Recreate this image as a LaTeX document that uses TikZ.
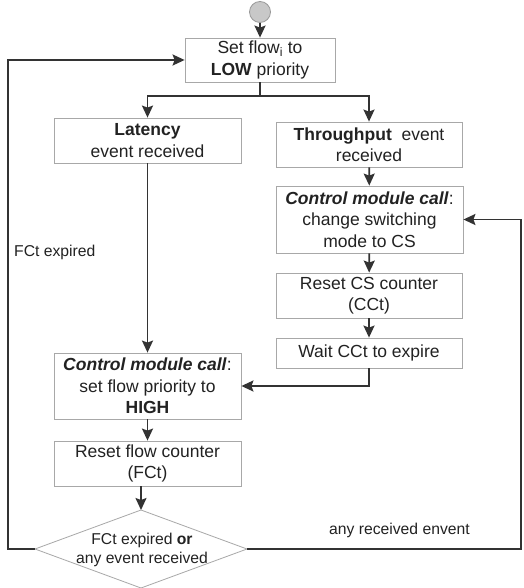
\documentclass[tikz,border=0pt]{standalone}
\usepackage{fontspec}
\setmainfont{Liberation Sans}
\usetikzlibrary{arrows.meta}
\definecolor{boxgray}{HTML}{A8A8A8}
\definecolor{linegray}{HTML}{333333}
\definecolor{txtgray}{HTML}{222222}
\definecolor{startfill}{HTML}{C8C8C8}
\newcommand\bxfont{\fontsize{17.5}{21.5}\selectfont}
\newcommand\lblfont{\fontsize{15.7}{19.5}\selectfont}
\begin{document}
\begin{tikzpicture}[x=1pt,y=-1pt,
  stepbox/.style={draw=boxgray, line width=0.8pt, fill=white, align=center,
    inner sep=0pt, text=txtgray, font=\bxfont},
  flow/.style={draw=linegray, line width=1.8pt,
    -{Stealth[length=12pt,width=11pt,inset=2pt]}},
  plain/.style={draw=linegray, line width=1.8pt},
  note/.style={text=txtgray, font=\lblfont, inner sep=0pt, anchor=west}]
  \useasboundingbox (0,0) rectangle (523,588);
  \fill[white] (0,0) rectangle (523,588);

  % start marker
  \node[circle, draw=gray!80, fill=startfill, line width=0.8pt,
    minimum size=21pt, inner sep=0pt] (start) at (260,12) {};

  % process boxes
  \node[stepbox, minimum width=150pt, minimum height=44pt] (low) at (260,60)
    {Set flow\textsubscript{i} to\\\textbf{LOW} priority};
  \node[stepbox, minimum width=187pt, minimum height=45pt] (lat) at (147.5,140.5)
    {\textbf{Latency}\\event received};
  \node[stepbox, minimum width=186pt, minimum height=45pt] (thr) at (369,144.5)
    {\textbf{Throughput}\ \ event\\received};
  \node[stepbox, minimum width=187pt, minimum height=67pt] (cs) at (369.5,219.5)
    {\textbf{\textit{Control module call}}:\\change switching\\mode to CS};
  \node[stepbox, minimum width=186pt, minimum height=45pt] (ccr) at (369,295.5)
    {Reset CS counter\\(CCt)};
  \node[stepbox, minimum width=186pt, minimum height=30pt] (wait) at (369,353)
    {Wait CCt to expire};
  \node[stepbox, minimum width=187pt, minimum height=66pt] (high) at (147.5,386)
    {\textbf{\textit{Control module call}}:\\set flow priority to\\\textbf{HIGH}};
  \node[stepbox, minimum width=187pt, minimum height=45pt] (fcr) at (147.5,463.5)
    {Reset flow counter\\(FCt)};

  % decision diamond, drawn from its four corners
  \coordinate (chkN) at (141,510);
  \coordinate (chkE) at (247,549);
  \coordinate (chkS) at (141,588);
  \coordinate (chkW) at (35,549);
  \draw[boxgray, line width=0.8pt, fill=white]
    (chkN) -- (chkE) -- (chkS) -- (chkW) -- cycle;
  \node[align=center, inner sep=0pt, text=txtgray, font=\lblfont] (chk)
    at (142,550) {FCt expired \textbf{or}\\any event received};

  % loop-back corners
  \coordinate (split) at (260,96);
  \coordinate (lcorner) at (8,549);
  \coordinate (rcorner) at (521,549);

  % labels
  \node[note] (lfct) at (14,252) {FCt expired};
  \node[note] (lany) at (329,530) {any received envent};

  % connectors
  \draw[flow] (start) -- (low);
  \draw[plain] (low.south) -- (split);
  \draw[flow] (split) -| (lat.north);
  \draw[flow] (split) -| (thr.north);
  \draw[flow] (thr) -- (cs);
  \draw[flow] (cs) -- (ccr);
  \draw[flow] (ccr) -- (wait);
  \draw[flow] (wait.south) |- (high.east);
  \draw[flow] (lat) -- (high);
  \draw[flow] (high) -- (fcr);
  \draw[flow] (chkN |- fcr.south) -- (chkN);
  \draw[flow] (chkW) -- (lcorner) |- (low.west);
  \draw[flow] (chkE) -- (rcorner) |- (cs.east);
\end{tikzpicture}
\end{document}
